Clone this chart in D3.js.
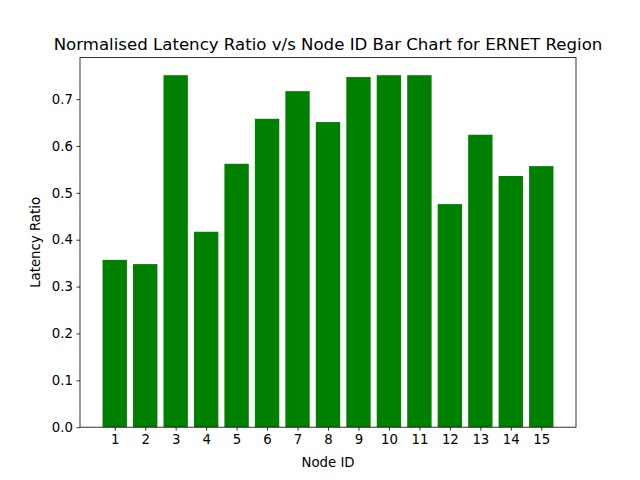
<!DOCTYPE html>
<html>
<head>
<meta charset="utf-8">
<script src="https://cdn.jsdelivr.net/npm/d3@7"></script>
<style>
  body { margin: 0; background: #fff; }
  text { font-family: "DejaVu Sans", sans-serif; }
</style>
</head>
<body>
<script>
// node ids and their latency ratios
const nodeIds = [1, 2, 3, 4, 5, 6, 7, 8, 9, 10, 11, 12, 13, 14, 15]
const latency = [0.357, 0.348, 0.751, 0.417, 0.562, 0.658, 0.717, 0.651, 0.747, 0.751, 0.751, 0.476, 0.624, 0.536, 0.557]
const yTicks = [0.0, 0.1, 0.2, 0.3, 0.4, 0.5, 0.6, 0.7]

const W = 640, H = 480
const axLeft = 80, axRight = 576, axTop = 57.6, axBottom = 427.2

const svg = d3.select("body").append("svg")
    .attr("width", W).attr("height", H)

// matplotlib style margins: bars are 0.8 wide, 5% padding
const x0 = d3.min(nodeIds) - 0.4, x1 = d3.max(nodeIds) + 0.4
const xPad = (x1 - x0) * 0.05
const x = d3.scaleLinear().domain([x0 - xPad, x1 + xPad]).range([axLeft, axRight])
const y = d3.scaleLinear().domain([0, d3.max(latency) * 1.05]).range([axBottom, axTop])

svg.append("g")
    .selectAll("rect")
    .data(nodeIds)
    .enter()
    .append("rect")
    .attr("x", d => x(d - 0.4))
    .attr("width", d => x(d + 0.4) - x(d - 0.4))
    .attr("y", (d, i) => y(latency[i]))
    .attr("height", (d, i) => y(0) - y(latency[i]))
    .attr("fill", "#008000")

const xAxis = svg.append("g")
    .attr("transform", `translate(0,${axBottom})`)
    .call(d3.axisBottom(x).tickValues(nodeIds).tickSize(3.5).tickPadding(3.5).tickFormat(d3.format("d")))
const yAxis = svg.append("g")
    .attr("transform", `translate(${axLeft},0)`)
    .call(d3.axisLeft(y).tickValues(yTicks).tickSize(3.5).tickPadding(3.5).tickFormat(d3.format(".1f")))

for (const ax of [xAxis, yAxis]) {
    ax.select(".domain").remove()
    ax.selectAll("line").attr("stroke", "#000").attr("stroke-width", 0.8)
    ax.selectAll("text").attr("font-size", "13.3px").attr("fill", "#000")
        .style("font-family", "DejaVu Sans, sans-serif")
}

// frame
svg.append("rect")
    .attr("x", axLeft).attr("y", axTop)
    .attr("width", axRight - axLeft).attr("height", axBottom - axTop)
    .attr("fill", "none").attr("stroke", "#000").attr("stroke-width", 0.8)

svg.append("text")
    .attr("x", (axLeft + axRight) / 2).attr("y", axTop - 8)
    .attr("text-anchor", "middle").attr("font-size", "16.6px")
    .text("Normalised Latency Ratio v/s Node ID Bar Chart for ERNET Region")

svg.append("text")
    .attr("x", (axLeft + axRight) / 2).attr("y", 467)
    .attr("text-anchor", "middle").attr("font-size", "13.3px")
    .text("Node ID")

svg.append("text")
    .attr("transform", `translate(40,${(axTop + axBottom) / 2}) rotate(-90)`)
    .attr("text-anchor", "middle").attr("font-size", "13.3px")
    .text("Latency Ratio")
</script>
</body>
</html>
